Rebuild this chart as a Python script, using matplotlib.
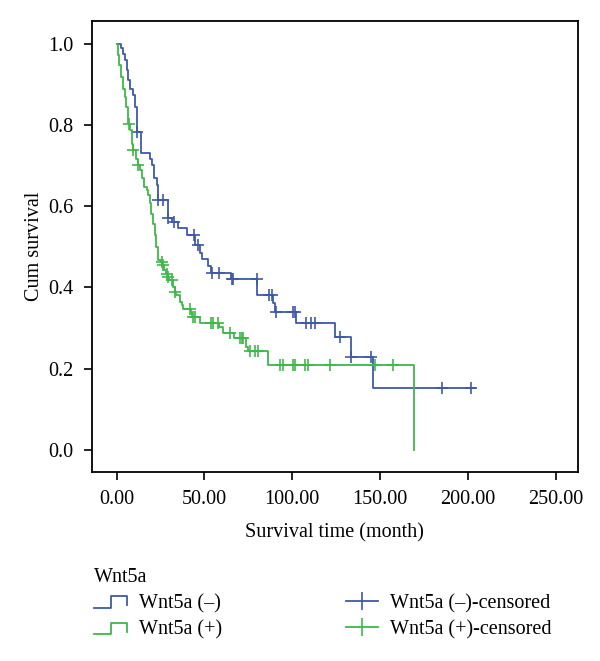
import numpy as np
import matplotlib
matplotlib.use("Agg")
import matplotlib.pyplot as plt
from matplotlib.lines import Line2D
from matplotlib.legend_handler import HandlerBase

plt.rcParams["font.family"] = ["Liberation Serif", "DejaVu Serif"]

# Wnt5a (-) : step times (month) and cum survival after each step
neg_time = [0, 2.8, 3.8, 4.7, 5.7, 6.6, 7.6, 9.1, 10.4, 11.4, 11.9, 13.8, 19.0, 19.9,
            21.4, 22.8, 23.3, 29.4, 31.5, 35.0, 39.8, 44.6, 47.5, 48.5, 52.0, 53.5,
            65.0, 80.2, 89.1, 90.1, 102.0, 124.2, 133.2, 146.0]
neg_surv = [1.0, 0.988, 0.975, 0.959, 0.934, 0.910, 0.889, 0.873, 0.844, 0.820, 0.783,
            0.730, 0.717, 0.700, 0.668, 0.651, 0.615, 0.570, 0.561, 0.545, 0.529, 0.504,
            0.484, 0.469, 0.452, 0.436, 0.420, 0.381, 0.361, 0.340, 0.312, 0.277, 0.229,
            0.152]
neg_end = 204.0
neg_censored = [11.9, 23.3, 26.5, 29.4, 32.8, 44.0, 46.4, 54.4, 58.4, 65.8, 66.3, 79.7,
                86.9, 88.2, 91.0, 100.5, 101.5, 107.7, 110.4, 112.9, 127.1, 133.5,
                144.6, 185.3, 202.0]

# Wnt5a (+)
pos_time = [0, 0.9, 1.5, 2.8, 3.8, 4.7, 5.3, 6.3, 6.6, 7.6, 8.5, 9.3, 10.8, 12.0, 13.3,
            14.2, 15.7, 17.1, 18.0, 19.0, 19.8, 20.8, 21.8, 22.5, 23.7, 25.0, 26.0, 27.0,
            28.0, 29.0, 30.0, 32.0, 33.0, 34.0, 36.0, 37.0, 38.0, 42.5, 43.2, 47.5, 58.5,
            60.5, 67.0, 73.5, 75.0, 86.3, 169.4]
pos_surv = [1.0, 0.971, 0.947, 0.918, 0.889, 0.869, 0.844, 0.820, 0.803, 0.786, 0.754,
            0.739, 0.717, 0.700, 0.688, 0.668, 0.647, 0.639, 0.627, 0.607, 0.580, 0.557,
            0.529, 0.500, 0.467, 0.463, 0.455, 0.443, 0.434, 0.426, 0.418, 0.400, 0.389,
            0.381, 0.365, 0.357, 0.348, 0.336, 0.328, 0.313, 0.303, 0.287, 0.275, 0.254,
            0.244, 0.209, 0.0]
pos_end = 169.4
pos_censored = [6.8, 9.5, 12.3, 25.6, 26.5, 28.5, 29.4, 31.3, 33.2, 41.7, 43.6, 44.6,
                53.5, 54.6, 57.8, 64.5, 70.2, 71.1, 72.1, 75.9, 78.7, 80.6, 92.9, 94.5,
                100.5, 101.5, 107.2, 109.0, 121.4, 147.0, 157.4]

BLUE = "#3f59a8"
GREEN = "#3fb84a"
FS = 14.5


def surv_at(times, survs, t):
    idx = np.searchsorted(times, t, side="right") - 1
    return np.asarray(survs)[idx]


class StepHandler(HandlerBase):
    # little step glyph like SPSS legends
    def create_artists(self, legend, orig_handle, xdescent, ydescent,
                       width, height, fontsize, trans):
        x0, y0 = -xdescent, -ydescent + height * 0.05
        h = height * 0.8
        xs = [x0, x0 + width * 0.5, x0 + width * 0.5, x0 + width, x0 + width]
        ys = [y0, y0, y0 + h, y0 + h, y0 + h * 0.2]
        ln = Line2D(xs, ys, color=orig_handle.get_color(), lw=orig_handle.get_linewidth())
        ln.set_transform(trans)
        return [ln]


fig = plt.figure(figsize=(6, 6.61), dpi=100)
ax = fig.add_axes([0.153, 0.286, 0.81, 0.682])

for times, survs, end, cens, col in [
    (neg_time, neg_surv, neg_end, neg_censored, BLUE),
    (pos_time, pos_surv, pos_end, pos_censored, GREEN),
]:
    xs = list(times) + [end]
    ys = list(survs) + [survs[-1]]
    ax.step(xs, ys, where="post", color=col, lw=1.3)
    ax.plot(cens, surv_at(times, survs, cens), linestyle="none", marker="+",
            color=col, markersize=8, markeredgewidth=1.2)

ax.set_xlim(-14.1, 262.5)
ax.set_ylim(-0.054, 1.055)
ax.set_xticks(np.arange(0, 251, 50))
ax.set_xticklabels([f"{v:.2f}" for v in np.arange(0, 251, 50)])
ax.set_yticks(np.arange(0, 1.01, 0.2))
ax.set_yticklabels([f"{v:.1f}" for v in np.arange(0, 1.01, 0.2)])
ax.tick_params(direction="out", length=6, width=1.2, labelsize=FS, pad=7)
for sp in ax.spines.values():
    sp.set_linewidth(1.3)
ax.set_xlabel("Survival time (month)", fontsize=FS, labelpad=10)
ax.set_ylabel("Cum survival", fontsize=FS, labelpad=3)

h_neg = Line2D([], [], color=BLUE, lw=1.3)
h_pos = Line2D([], [], color=GREEN, lw=1.3)
h_negc = Line2D([], [], color=BLUE, lw=1.3, marker="|", markersize=13, markeredgewidth=1.2)
h_posc = Line2D([], [], color=GREEN, lw=1.3, marker="|", markersize=13, markeredgewidth=1.2)

leg = fig.legend([h_neg, h_pos, h_negc, h_posc],
                 ["Wnt5a (–)", "Wnt5a (+)", "Wnt5a (–)-censored", "Wnt5a (+)-censored"],
                 handler_map={h_neg: StepHandler(), h_pos: StepHandler()},
                 ncol=2, title="Wnt5a", title_fontsize=FS, fontsize=FS,
                 frameon=False, loc="upper left", bbox_to_anchor=(0.144, 0.153),
                 alignment="left", handlelength=1.6, handletextpad=0.6,
                 columnspacing=6.15, labelspacing=0.35, numpoints=1, borderaxespad=0)

fig.savefig("out.png", dpi=100)
